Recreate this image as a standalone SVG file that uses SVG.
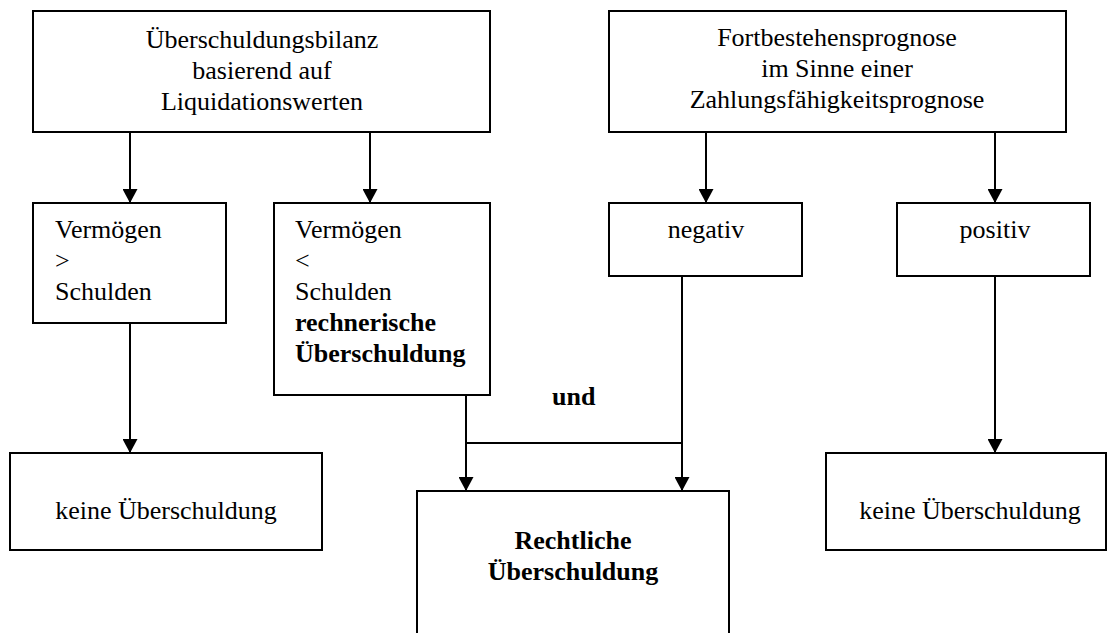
<svg xmlns="http://www.w3.org/2000/svg" width="1112" height="633" viewBox="0 0 1112 633">
<defs>
<marker id="ah" markerUnits="userSpaceOnUse" markerWidth="16" markerHeight="15" refX="14" refY="7.5" orient="auto">
<path d="M0,0 L14,7.5 L0,15 Z" fill="#000"/>
</marker>
</defs>
<style>
.box{fill:#fff;stroke:#000;stroke-width:2}
text{font-family:'Liberation Serif','Tinos','Times New Roman','DejaVu Serif',serif;font-size:26px;fill:#000}
.c{text-anchor:middle}
.b{font-weight:bold}
.ln{fill:none;stroke:#000;stroke-width:2}
</style>
<rect width="1112" height="633" fill="#fff"/>
<g id="connectors">
<line class="ln" x1="130" y1="132" x2="130" y2="203" marker-end="url(#ah)"/>
<line class="ln" x1="370" y1="132" x2="370" y2="203" marker-end="url(#ah)"/>
<line class="ln" x1="706" y1="132" x2="706" y2="203" marker-end="url(#ah)"/>
<line class="ln" x1="995" y1="132" x2="995" y2="203" marker-end="url(#ah)"/>
<line class="ln" x1="130" y1="323" x2="130" y2="453" marker-end="url(#ah)"/>
<line class="ln" x1="995" y1="276" x2="995" y2="453" marker-end="url(#ah)"/>
<line class="ln" x1="466" y1="395" x2="466" y2="491" marker-end="url(#ah)"/>
<line class="ln" x1="682" y1="276" x2="682" y2="491" marker-end="url(#ah)"/>
<line class="ln" x1="466" y1="443" x2="682" y2="443"/>
</g>
<g id="n1" font-family="Liberation Serif, serif">
<rect class="box" x="33" y="11" width="457" height="121"/>
<text class="c" x="262" y="48">Überschuldungsbilanz</text>
<text class="c" x="262" y="79">basierend auf</text>
<text class="c" x="262" y="110">Liquidationswerten</text>
</g>
<g id="n2">
<rect class="box" x="609" y="11" width="457" height="121"/>
<text class="c" x="837" y="46">Fortbestehensprognose</text>
<text class="c" x="837" y="77">im Sinne einer</text>
<text class="c" x="837" y="108">Zahlungsfähigkeitsprognose</text>
</g>
<g id="n3">
<rect class="box" x="33" y="203" width="193" height="120"/>
<text x="55" y="238">Vermögen</text>
<text x="55" y="269">&gt;</text>
<text x="55" y="300">Schulden</text>
</g>
<g id="n4">
<rect class="box" x="274" y="203" width="216" height="192"/>
<text x="295" y="238">Vermögen</text>
<text x="295" y="269">&lt;</text>
<text x="295" y="300">Schulden</text>
<text class="b" x="295" y="331">rechnerische</text>
<text class="b" x="295" y="362">Überschuldung</text>
</g>
<g id="n5">
<rect class="box" x="609" y="203" width="193" height="73"/>
<text class="c" x="706" y="238">negativ</text>
</g>
<g id="n6">
<rect class="box" x="897" y="203" width="193" height="73"/>
<text class="c" x="995" y="238">positiv</text>
</g>
<g id="n7">
<rect class="box" x="10" y="453" width="312" height="97"/>
<text class="c" x="166" y="519">keine Überschuldung</text>
</g>
<g id="n8">
<rect class="box" x="826" y="453" width="280" height="97"/>
<text class="c" x="970" y="519">keine Überschuldung</text>
</g>
<g id="n9">
<path class="ln" d="M417,640 L417,491 L729,491 L729,640"/>
<text class="c b" x="573" y="549">Rechtliche</text>
<text class="c b" x="573" y="580">Überschuldung</text>
</g>
<g id="und">
<text class="b" x="552" y="405">und</text>
</g>
</svg>
